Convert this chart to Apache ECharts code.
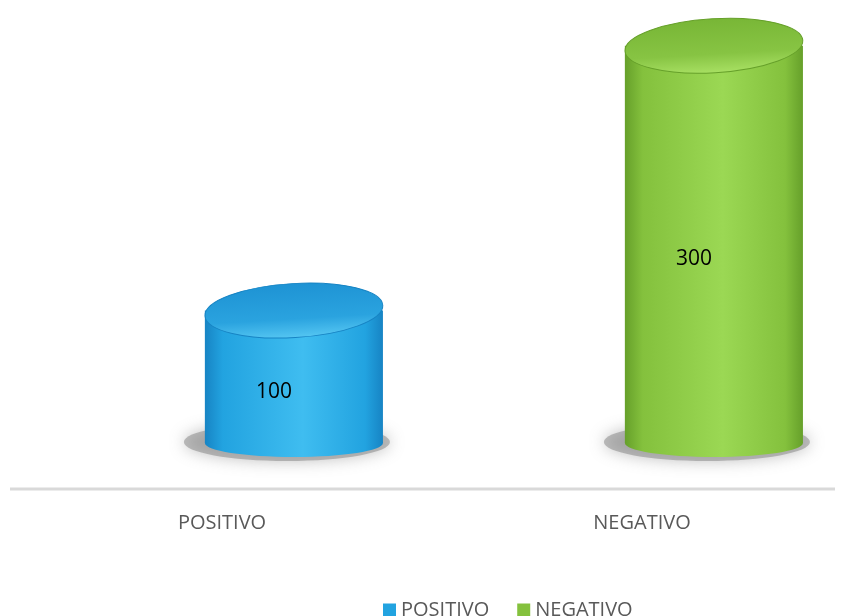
<!DOCTYPE html>
<html>
<head>
<meta charset="utf-8">
<script src="https://cdn.jsdelivr.net/npm/echarts@6/dist/echarts.min.js"></script>
<style>
  html, body { margin: 0; padding: 0; background: #ffffff; }
  #chart { width: 844px; height: 616px; }
</style>
</head>
<body>
<div id="chart"></div>
<script>
// Categories and values
const categories = ['POSITIVO', 'NEGATIVO'];
const values = [100, 300];

// Colour palettes for each cylinder
const palettes = [
  { dark: '#1784c4', mid: '#22a3e0', light: '#3fbdf0', top: '#1e93d4', topIn: '#2aa3df', rim: '#55c6f2' },
  { dark: '#66a02a', mid: '#84c13d', light: '#9bd854', top: '#78b636', topIn: '#87c443', rim: '#a8e063' }
];

const chart = echarts.init(document.getElementById('chart'));

function cylinder(params, api) {
  const idx = params.seriesIndex;
  const pal = palettes[idx];
  const cat = api.value(0);
  const val = api.value(1);
  const topPt = api.coord([cat, val]);
  const basePt = api.coord([cat, 0]);
  const band = api.size([1, 0])[0];
  const rx = band * 0.212;
  const cx = topPt[0] + band * 0.195;
  const ryTop = 27;
  const ryBot = 14;
  const yTop = topPt[1];
  const yBot = basePt[1];

  const sideGrad = new echarts.graphic.LinearGradient(0, 0, 1, 0, [
    { offset: 0, color: pal.dark },
    { offset: 0.1, color: pal.mid },
    { offset: 0.55, color: pal.light },
    { offset: 0.9, color: pal.mid },
    { offset: 1, color: pal.dark }
  ]);
  const topGrad = new echarts.graphic.LinearGradient(0, 0, 0, 1, [
    { offset: 0, color: pal.top },
    { offset: 0.65, color: pal.topIn },
    { offset: 1, color: pal.rim }
  ]);

  return {
    type: 'group',
    children: [
      // soft floor shadow
      {
        type: 'ellipse',
        shape: { cx: cx - 7, cy: yBot - 1, rx: rx + 14, ry: ryBot + 5 },
        style: { fill: 'rgba(130,130,130,0.5)', shadowBlur: 16, shadowColor: 'rgba(100,100,100,0.8)' },
        z2: 0
      },
      // rounded bottom of the body
      {
        type: 'ellipse',
        shape: { cx: cx, cy: yBot, rx: rx, ry: ryBot },
        style: { fill: sideGrad },
        z2: 1
      },
      // body
      {
        type: 'rect',
        shape: { x: cx - rx, y: yTop, width: rx * 2, height: yBot - yTop },
        style: { fill: sideGrad },
        z2: 2
      },
      // top face, slightly tilted
      {
        type: 'ellipse',
        shape: { cx: cx, cy: yTop, rx: rx, ry: ryTop },
        rotation: 0.06,
        originX: cx,
        originY: yTop,
        style: { fill: topGrad, stroke: pal.dark, lineWidth: 1 },
        z2: 3
      },
      // value label
      {
        type: 'text',
        style: {
          text: String(val),
          x: cx - 20,
          y: (yTop + yBot) / 2 + 15,
          fill: '#000000',
          font: '21px "Open Sans", sans-serif',
          align: 'center',
          verticalAlign: 'middle'
        },
        z2: 4
      }
    ]
  };
}

const series = categories.map((name, i) => ({
  name: name,
  type: 'custom',
  renderItem: cylinder,
  itemStyle: { color: palettes[i].mid },
  data: [[i, values[i]]],
  clip: false
}));

chart.setOption({
  animation: false,
  backgroundColor: '#ffffff',
  grid: { left: 2, right: 2, top: 6, bottom: 173 },
  xAxis: {
    type: 'category',
    data: categories,
    axisLine: { show: false },
    axisTick: { show: false },
    axisLabel: {
      color: '#595959',
      fontSize: 20,
      fontFamily: 'Open Sans',
      margin: 70,
      padding: [0, 0, 0, 20]
    }
  },
  yAxis: {
    type: 'value',
    min: 0,
    max: 330,
    show: false,
    splitLine: { show: false }
  },
  legend: {
    data: categories,
    top: 600,
    left: 383,
    padding: 0,
    icon: 'rect',
    itemWidth: 13,
    itemHeight: 13,
    itemGap: 28,
    textStyle: { color: '#595959', fontSize: 20, lineHeight: 20, fontFamily: 'Open Sans' }
  },
  graphic: [
    {
      type: 'line',
      shape: { x1: 10, y1: 489, x2: 835, y2: 489 },
      style: { stroke: '#d9d9d9', lineWidth: 3 },
      silent: true
    }
  ],
  series: series
});
</script>
</body>
</html>
